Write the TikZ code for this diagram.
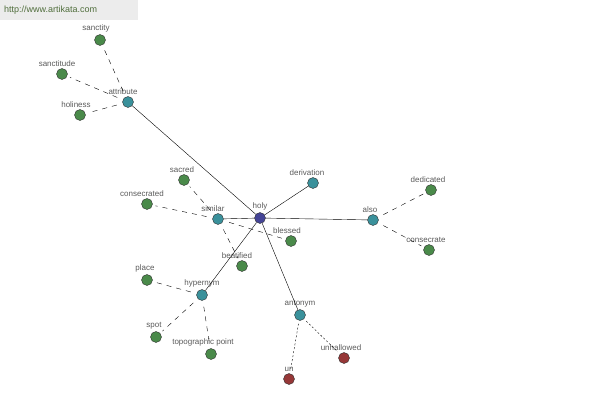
\documentclass[tikz,border=0pt]{standalone}
\usepackage{fontspec}
\setsansfont{Liberation Sans}
\usetikzlibrary{positioning}
\definecolor{leafgreen}{RGB}{74,138,74}
\definecolor{hubteal}{RGB}{58,145,155}
\definecolor{rootblue}{RGB}{68,68,150}
\definecolor{antred}{RGB}{150,55,55}
\definecolor{lblgray}{RGB}{90,90,90}
\definecolor{wmgray}{RGB}{236,236,236}
\definecolor{wmtext}{RGB}{80,110,60}

\begin{document}
\begin{tikzpicture}
[x=1pt,y=-1pt,
 bullet/.style={circle,draw=black!80,thin,inner sep=0pt,minimum size=11pt},
 leaf/.style={bullet,fill=leafgreen},
 hub/.style={bullet,fill=hubteal},
 root/.style={bullet,fill=rootblue},
 opp/.style={bullet,fill=antred},
 lbl/.style={font=\sffamily\fontsize{8}{9}\selectfont,text=lblgray,inner sep=0pt},
 rel/.style={thin,black},
 syn/.style={thin,black,dash pattern=on 5pt off 5pt,shorten <=6pt,shorten >=3pt},
 ant/.style={thin,black,dash pattern=on 2pt off 2pt,shorten <=3pt,shorten >=3pt}]
\useasboundingbox (0,0) rectangle (600,400);
\fill[wmgray] (0,0) rectangle (138,20);
\node[lbl,text=wmtext,font=\sffamily\fontsize{9}{10}\selectfont,anchor=west] (www) at (4,10) {http://www.artikata.com};

\node[root] (holy) at (260,218) [label={[lbl,label distance=2pt]above:holy}] {};
\node[hub] (attribute) at (128,102) [label={[lbl,label distance=2pt,xshift=-5pt]above:attribute}] {};
\node[hub] (derivation) at (313,183) [label={[lbl,label distance=2pt,xshift=-6pt]above:derivation}] {};
\node[hub] (also) at (373,220) [label={[lbl,label distance=2pt,xshift=-3pt]above:also}] {};
\node[hub] (similar) at (218,219) [label={[lbl,label distance=2pt,xshift=-5pt]above:similar}] {};
\node[hub] (hypernym) at (202,295) [label={[lbl,label distance=2pt]above:hypernym}] {};
\node[hub] (antonym) at (300,315) [label={[lbl,label distance=2pt]above:antonym}] {};

\node[leaf] (sanctity) at (100,40) [label={[lbl,label distance=2pt,xshift=-4pt]above:sanctity}] {};
\node[leaf] (sanctitude) at (62,74) [label={[lbl,label distance=2pt,xshift=-5pt]above:sanctitude}] {};
\node[leaf] (holiness) at (80,115) [label={[lbl,label distance=2pt,xshift=-4pt]above:holiness}] {};
\node[leaf] (dedicated) at (431,190) [label={[lbl,label distance=2pt,xshift=-3pt]above:dedicated}] {};
\node[leaf] (consecrate) at (429,250) [label={[lbl,label distance=2pt,xshift=-3pt]above:consecrate}] {};
\node[leaf] (sacred) at (184,180) [label={[lbl,label distance=2pt,xshift=-2pt]above:sacred}] {};
\node[leaf] (consecrated) at (147,204) [label={[lbl,label distance=2pt,xshift=-5pt]above:consecrated}] {};
\node[leaf] (blessed) at (291,241) [label={[lbl,label distance=2pt,xshift=-4pt]above:blessed}] {};
\node[leaf] (beatified) at (242,266) [label={[lbl,label distance=2pt,xshift=-5pt]above:beatified}] {};
\node[leaf] (place) at (147,280) [label={[lbl,label distance=2pt,xshift=-2pt]above:place}] {};
\node[leaf] (spot) at (156,337) [label={[lbl,label distance=2pt,xshift=-2pt]above:spot}] {};
\node[leaf] (topo) at (211,354) [label={[lbl,label distance=2pt,xshift=-8pt]above:topographic point}] {};
\node[opp] (unhallowed) at (344,358) [label={[lbl,label distance=2pt,xshift=-3pt]above:unhallowed}] {};
\node[opp] (un) at (289,379) [label={[lbl,label distance=2pt]above:un}] {};

\draw [rel] (holy) -- (attribute);
\draw [rel] (holy) -- (derivation);
\draw [rel] (holy) -- (also);
\draw [rel] (holy) -- (similar);
\draw [rel] (holy) -- (hypernym);
\draw [rel] (holy) -- (antonym);

\draw [syn] (attribute) -- (sanctity);
\draw [syn] (attribute) -- (sanctitude);
\draw [syn] (attribute) -- (holiness);
\draw [syn] (also) -- (dedicated);
\draw [syn] (also) -- (consecrate);
\draw [syn] (similar) -- (sacred);
\draw [syn] (similar) -- (consecrated);
\draw [syn] (similar) -- (blessed);
\draw [syn] (similar) -- (beatified);
\draw [syn] (hypernym) -- (place);
\draw [syn] (hypernym) -- (spot);
\draw [syn] (hypernym) -- (topo);
\draw [ant] (antonym) -- (unhallowed);
\draw [ant] (antonym) -- (un);
\end{tikzpicture}
\end{document}
